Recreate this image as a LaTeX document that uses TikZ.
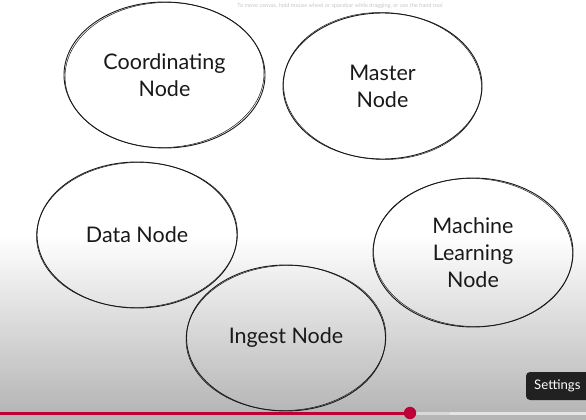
\documentclass[tikz,border=0pt]{standalone}
\usepackage{fontspec}
\setmainfont{Lato}
\usetikzlibrary{shapes.geometric}
\definecolor{barred}{RGB}{190,0,55}
\definecolor{bggray}{RGB}{182,182,182}
\definecolor{tipbg}{RGB}{33,33,33}
\definecolor{inkc}{RGB}{25,25,25}
\tikzset{
  blob/.style={ellipse, draw=inkc, line width=0.9pt, inner sep=0pt,
    minimum width=200pt, minimum height=146pt, align=center,
    font=\fontsize{21.5}{27}\selectfont, text=inkc},
  sketch/.style={draw=inkc, line width=0.5pt},
}
\begin{document}
\begin{tikzpicture}[x=1pt,y=-1pt]
\useasboundingbox (0,0) rectangle (586,420);
\clip (0,0) rectangle (586,420);
% background
\fill[white] (0,0) rectangle (586,420);
\shade[top color=white, bottom color=bggray] (0,235) rectangle (586,412);
\fill[bggray] (0,412) rectangle (586,420);
% hint text
\node[text=black!22, font=\fontsize{5.6}{6}\selectfont, anchor=center] (hint) at (340,6)
  {To move canvas, hold mouse wheel or spacebar while dragging, or use the hand tool};
% nodes
\node[blob, minimum width=201pt, minimum height=146pt] (coord) at (164.5,75) {Coordinating\\Node};
\node[blob, minimum width=199pt, minimum height=146pt] (master) at (382.5,86) {Master\\Node};
\node[blob, minimum width=200pt, minimum height=146pt] (data) at (137,235) {Data Node};
\node[blob, minimum width=200pt, minimum height=149pt] (ml) at (473,252.5) {Machine\\Learning\\Node};
\node[blob, minimum width=199pt, minimum height=146pt] (ingest) at (286,338) {Ingest Node};
% second sketch strokes
\draw[sketch, rotate around={2:(coord.center)}] (coord.center) ellipse (99.5pt and 72.5pt);
\draw[sketch, rotate around={-2:(master.center)}] (master.center) ellipse (99pt and 73.5pt);
\draw[sketch, rotate around={1.5:(data.center)}] (data.center) ellipse (100.5pt and 72.5pt);
\draw[sketch, rotate around={-2:(ml.center)}] (ml.center) ellipse (99.5pt and 74pt);
\draw[sketch, rotate around={2:(ingest.center)}] (ingest.center) ellipse (100pt and 72.5pt);
% video progress bar
\fill[black!10] (410,411.5) rectangle (586,415);
\fill[white!85!black] (410,411.5) rectangle (450,415);
\fill[barred] (0,411.5) rectangle (410,415);
\fill[barred] (410,413) circle (6.2pt);
% settings tooltip
\fill[tipbg, rounded corners=4pt] (526,372) rectangle (600,400);
\node[text=white, font=\fontsize{13.2}{14}\selectfont, anchor=west, inner sep=0pt] (settings) at (534,386) {Settings};
\end{tikzpicture}
\end{document}
